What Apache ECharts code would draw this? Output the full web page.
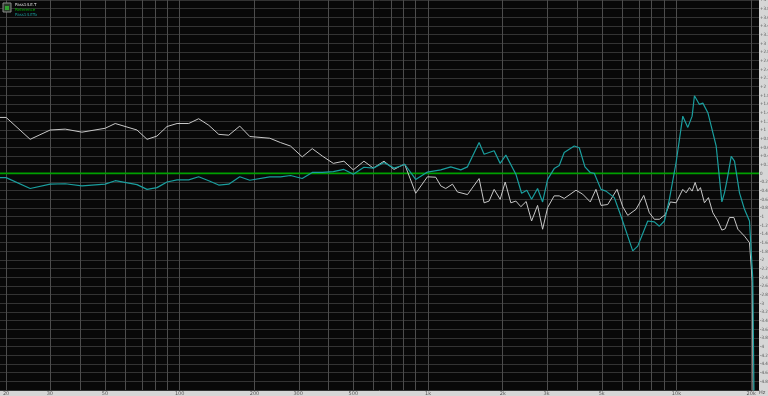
<!DOCTYPE html>
<html><head><meta charset="utf-8">
<script src="https://cdn.jsdelivr.net/npm/echarts@6/dist/echarts.min.js"></script>
<style>html,body{margin:0;padding:0;background:#d6d6d6;}#c{width:768px;height:396px;}</style>
</head><body><div id="c"></div>
<script>
// Frequencies (Hz) and levels (dB)
const freqWhite = [18.9,20,25,30.1,34.6,40.4,50.1,55,67.3,73.9,81,88.9,97.6,108.7,119.2,130.9,143.6,157.6,174.5,191.5,230.5,254.6,279.4,311.4,341.7,375,415.3,458.3,500,551.8,602.1,664.5,729.1,775.6,805,891.7,994,1074,1125,1178,1254,1313,1441,1605,1681,1761,1845,1951,2044,2154,2257,2364,2483,2611,2760,2892,3029,3220,3374,3533,3940,4192,4498,4742,4968,5288,5765,6078,6367,6877,7386,7780,8150,8538,9027,9454,9968,10607,10940,11281,11566,11893,12195,12493,12965,13456,14017,14683,15238,15712,16353,17036,17678,18793,19686,20200,20400];
const dbWhite = [1.29,1.29,0.785,1.0,1.02,0.95,1.04,1.15,1.0,0.785,0.86,1.08,1.15,1.15,1.26,1.11,0.90,0.88,1.09,0.85,0.81,0.71,0.63,0.38,0.57,0.40,0.23,0.28,0.08,0.28,0.12,0.28,0.09,0.17,0.21,-0.46,-0.08,-0.09,-0.29,-0.35,-0.25,-0.43,-0.49,-0.12,-0.68,-0.64,-0.37,-0.60,-0.20,-0.68,-0.64,-0.77,-0.65,-1.10,-0.74,-1.29,-0.79,-0.52,-0.52,-0.58,-0.39,-0.48,-0.66,-0.37,-0.74,-0.72,-0.37,-0.77,-0.97,-0.83,-0.51,-0.91,-1.06,-1.06,-0.95,-0.66,-0.68,-0.37,-0.45,-0.33,-0.41,-0.21,-0.41,-0.33,-0.68,-0.56,-0.91,-1.10,-1.31,-1.28,-1.02,-1.02,-1.29,-1.45,-1.60,-2.5,-6];
const freqTeal = [18.9,20,25,30.1,34.6,40.4,50.1,55,67.3,73.9,81,88.9,97.6,108.7,119.2,130.9,143.6,157.6,174.5,191.5,230.5,254.6,279.4,311.4,341.7,375,415.3,458.3,500,551.8,602.1,664.5,729.1,775.6,805,891.7,994,1125,1234,1354,1441,1605,1681,1845,1951,2057,2257,2380,2499,2611,2760,2892,3029,3220,3374,3533,3878,4062,4282,4498,4668,4968,5205,5622,5983,6669,6986,7666,8150,8538,8943,9367,9968,10607,11114,11566,11816,12378,12774,13381,14017,14454,15238,15611,16007,16615,17131,17944,18793,19686,20300,20600];
const dbTeal = [-0.10,-0.10,-0.35,-0.25,-0.24,-0.29,-0.25,-0.17,-0.26,-0.37,-0.33,-0.20,-0.15,-0.15,-0.08,-0.17,-0.27,-0.25,-0.08,-0.16,-0.08,-0.08,-0.05,-0.12,0.02,0.02,0.04,0.09,-0.02,0.14,0.12,0.25,0.12,0.17,0.21,-0.14,0.03,0.08,0.15,0.08,0.15,0.71,0.44,0.52,0.23,0.42,-0.02,-0.46,-0.39,-0.60,-0.35,-0.66,-0.14,0.11,0.18,0.48,0.63,0.59,0.15,0.02,0.0,-0.37,-0.41,-0.56,-0.99,-1.79,-1.68,-1.10,-1.12,-1.22,-1.10,-0.60,0.25,1.32,1.06,1.32,1.79,1.59,1.62,1.40,0.94,0.63,-0.66,-0.45,-0.14,0.39,0.28,-0.45,-0.83,-1.10,-2.45,-6];
const referenceDb = 0;
const gridFreqs = [20,30,40,50,60,70,80,90,100,200,300,400,500,600,700,800,900,1000,2000,3000,4000,5000,6000,7000,8000,9000,10000,20000];
const xTickFreqs = [20,30,50,100,200,300,500,1000,2000,3000,5000,10000,20000];
const freqMin = 18.9, freqMax = 21500;
const dbMin = -5, dbMax = 4, dbStep = 0.2;

const L = Math.log10;
const toPts = (f, d) => f.map((v, i) => [L(v), d[i]]);
const fmtF = f => f >= 1000 ? (f / 1000) + 'k' : String(f);

const chart = echarts.init(document.getElementById('c'));
chart.setOption({
  animation: false,
  backgroundColor: '#d6d6d6',
  grid: { left: 0, top: 0, right: 9, bottom: 6, show: true, backgroundColor: '#080808', borderWidth: 0, outerBoundsMode: 'none', containLabel: false },
  xAxis: {
    type: 'value', min: L(freqMin), max: L(freqMax),
    axisLine: { show: false }, axisTick: { show: false }, splitLine: { show: false },
    axisLabel: {
      customValues: xTickFreqs.map(L), margin: 1, fontSize: 5, color: '#555',
      fontFamily: 'DejaVu Sans',
      formatter: v => fmtF(Math.round(Math.pow(10, v)))
    }
  },
  yAxis: {
    type: 'value', position: 'right', min: dbMin, max: dbMax, interval: dbStep,
    axisLine: { show: false }, axisTick: { show: false },
    splitLine: { lineStyle: { color: '#333333', width: 1 } },
    axisLabel: {
      margin: 1, fontSize: 4.5, color: '#555', fontFamily: 'Liberation Sans Narrow, DejaVu Sans Condensed, DejaVu Sans', showMinLabel: false,
      formatter: v => { const r = Math.round(v * 10) / 10; if (r === 0) return '0'; return (r > 0 ? '+' : '') + r; }
    }
  },
  series: [
    {
      type: 'line', data: [[L(freqMin), referenceDb], [L(freqMax), referenceDb]], symbol: 'none',
      lineStyle: { color: '#00a000', width: 1.6 }, silent: true, z: 3,
      markLine: {
        silent: true, symbol: 'none', label: { show: false },
        lineStyle: { color: '#4c4c4c', width: 1, type: 'solid' },
        data: gridFreqs.map(f => ({ xAxis: L(f) })), z: 1
      }
    },
    { type: 'line', data: toPts(freqWhite, dbWhite), symbol: 'none', lineStyle: { color: '#c8c8c8', width: 1 }, z: 4 },
    { type: 'line', data: toPts(freqTeal, dbTeal), symbol: 'none', lineStyle: { color: '#1a9e9e', width: 1.2 }, z: 5 }
  ],
  graphic: [
    { type: 'rect', shape: { x: 3, y: 3, width: 8, height: 9 }, style: { fill: '#2a3a2a', stroke: '#8a8a8a', lineWidth: 1 }, z: 10 },
    { type: 'rect', shape: { x: 5, y: 6, width: 4, height: 4 }, style: { fill: '#30a030' }, z: 11 },
    { type: 'text', left: 15, top: 3, style: { text: 'Pass14.E.T', fill: '#e0e0e0', fontSize: 4, fontFamily: 'DejaVu Sans' }, z: 10 },
    { type: 'text', left: 15, top: 8, style: { text: 'Reference', fill: '#00b000', fontSize: 4, fontFamily: 'DejaVu Sans' }, z: 10 },
    { type: 'text', left: 15, top: 13, style: { text: 'Pass14.ETo', fill: '#1a9e9e', fontSize: 4, fontFamily: 'DejaVu Sans' }, z: 10 },
    { type: 'text', left: 759, top: 390, style: { text: 'Hz', fill: '#555', fontSize: 5, fontFamily: 'DejaVu Sans' }, z: 10 }
  ]
});
</script></body></html>
